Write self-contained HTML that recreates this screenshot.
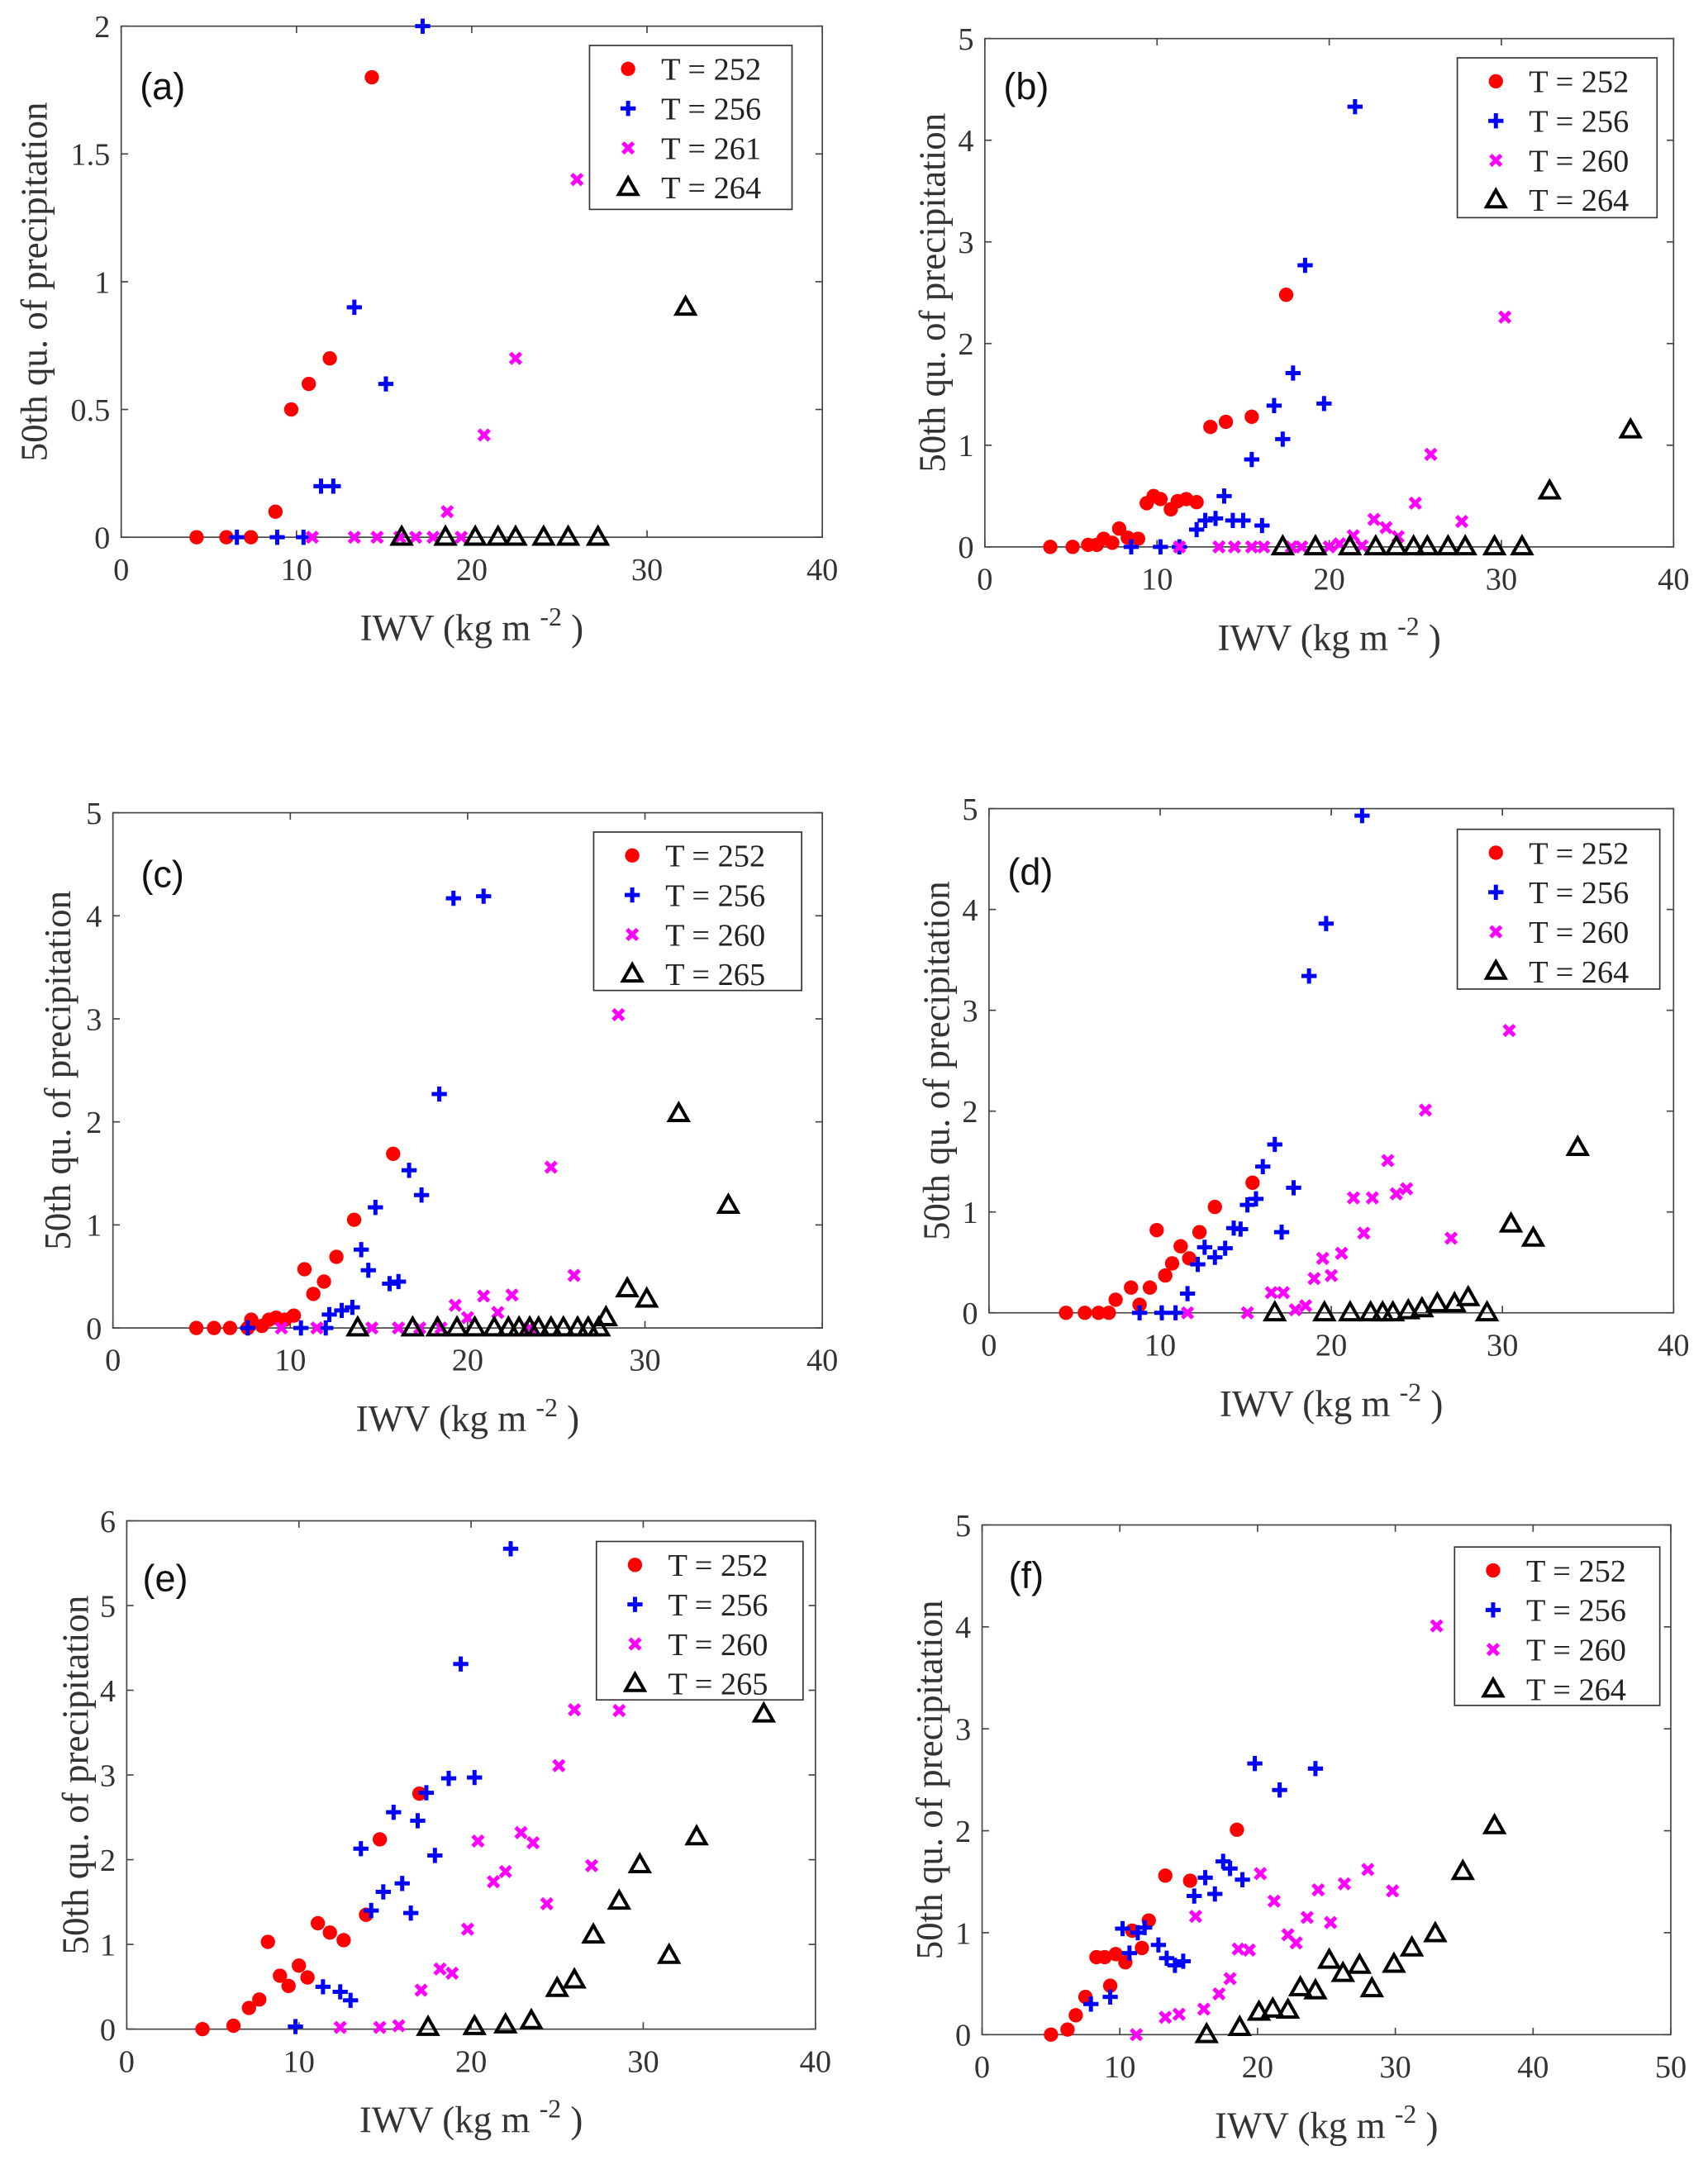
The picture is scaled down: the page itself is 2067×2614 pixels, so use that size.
<!DOCTYPE html>
<html><head><meta charset="utf-8"><style>
html,body{margin:0;padding:0;background:#fff;}
svg{display:block;}
</style></head><body>
<svg id="fig" width="2067" height="2614" viewBox="0 0 1240 1568" preserveAspectRatio="none" xmlns="http://www.w3.org/2000/svg"></svg>
<script>
// ---- data (IWV, precip) per panel and series ----
const a_252_x=[4.3,6.0,7.4,8.8,9.7,10.7,11.9,14.3];
const a_252_y=[0,0,0,0.1,0.5,0.6,0.7,1.8];
const a_256_x=[6.6,8.9,10.4,11.4,12.1,13.3,15.1,17.2];
const a_256_y=[0,0,0,0.2,0.2,0.9,0.6,2.0];
const a_261_x=[10.9,13.3,14.6,15.9,16.8,17.8,18.6,19.4,20.7,22.5,26.0];
const a_261_y=[0,0,0,0,0,0,0.1,0,0.4,0.7,1.4];
const a_264_x=[16.0,18.5,20.2,21.5,22.5,24.1,25.5,27.2,32.2];
const a_264_y=[0,0,0,0,0,0,0,0,0.9];

const b_252_x=[3.8,5.1,6.0,6.5,6.9,7.4,7.8,8.3,8.9,9.4,9.8,10.2,10.8,11.2,11.7,12.3,13.1,14.0,15.5,17.5];
const b_252_y=[0,0,0.02,0.02,0.08,0.04,0.18,0.09,0.08,0.43,0.5,0.47,0.37,0.45,0.47,0.44,1.18,1.23,1.28,2.48];
const b_256_x=[8.5,10.2,11.3,12.3,12.8,13.4,13.9,14.4,15.0,15.5,16.1,16.8,17.3,17.9,18.6,19.7,21.5];
const b_256_y=[0,0,0,0.17,0.26,0.28,0.5,0.26,0.26,0.86,0.21,1.39,1.06,1.71,2.77,1.41,4.33];
const b_260_x=[11.3,13.6,14.5,15.5,16.2,17.8,18.4,20.0,20.6,21.4,21.9,22.6,23.3,24.0,25.0,25.9,27.7,30.2];
const b_260_y=[0,0,0,0,0,0,0,0,0.03,0.11,0.01,0.27,0.19,0.1,0.43,0.91,0.25,2.26];
const b_264_x=[17.3,19.2,21.2,22.7,23.9,24.9,25.7,26.9,27.9,29.6,31.2,32.8,37.5];
const b_264_y=[0,0,0,0,0,0,0,0,0,0,0,0.55,1.15];

const c_252_x=[4.7,5.7,6.6,7.6,7.8,8.4,8.8,9.2,9.7,10.2,10.8,11.3,11.9,12.6,13.6,15.8];
const c_252_y=[0,0,0,0,0.08,0.02,0.08,0.1,0.08,0.12,0.57,0.33,0.45,0.69,1.05,1.69];
const c_256_x=[7.6,10.6,12.0,12.2,12.9,13.5,14.0,14.4,14.8,15.6,16.1,16.7,17.4,18.4,19.2,20.9];
const c_256_y=[0,0,0,0.13,0.17,0.2,0.76,0.56,1.17,0.43,0.45,1.53,1.29,2.27,4.17,4.19];
const c_260_x=[9.5,11.5,14.6,16.1,17.3,18.5,19.3,20.0,20.9,21.7,22.5,23.5,24.7,26.0,28.5];
const c_260_y=[0,0,0,0,0,0,0.22,0.1,0.31,0.15,0.32,0,1.56,0.51,3.04];
const c_265_x=[13.8,16.9,18.3,19.4,20.4,21.5,22.3,22.9,23.5,24.0,24.7,25.4,26.2,26.8,27.4,27.8,29.0,30.1,31.9,34.7];
const c_265_y=[0,0,0,0,0,0,0,0,0,0,0,0,0,0,0,0.1,0.38,0.28,2.08,1.19];

const d_252_x=[4.5,5.6,6.4,7.0,7.4,8.3,8.8,9.4,9.8,10.3,10.7,11.2,11.7,12.3,13.2,15.4];
const d_252_y=[0,0,0,0,0.13,0.25,0.08,0.25,0.82,0.37,0.49,0.66,0.54,0.8,1.05,1.29];
const d_256_x=[8.8,10.1,10.9,11.6,12.2,12.6,13.2,13.8,14.3,14.7,15.1,15.6,16.0,16.7,17.1,17.8,18.7,19.7,21.8];
const d_256_y=[0,0,0,0.19,0.48,0.65,0.55,0.64,0.84,0.83,1.07,1.13,1.45,1.67,0.8,1.24,3.34,3.86,4.93];
const d_260_x=[11.6,15.1,16.5,17.2,17.9,18.5,19.0,19.5,20.0,20.6,21.3,21.9,22.4,23.3,23.8,24.4,25.5,27.0,30.4];
const d_260_y=[0,0,0.2,0.2,0.03,0.07,0.34,0.54,0.37,0.59,1.14,0.79,1.14,1.51,1.18,1.23,2.01,0.74,2.8];
const d_264_x=[16.7,19.6,21.1,22.3,23.0,23.6,24.5,25.3,26.2,27.2,28.0,29.1,30.5,31.8,34.4];
const d_264_y=[0,0,0,0,0,0,0.02,0.04,0.09,0.09,0.15,0,0.88,0.74,1.64];

const e_252_x=[4.4,6.2,7.1,7.7,8.2,8.9,9.4,10.0,10.5,11.1,11.8,12.6,13.9,14.7,17.0];
const e_252_y=[0,0.04,0.25,0.35,1.03,0.63,0.51,0.75,0.61,1.25,1.14,1.05,1.35,2.24,2.78];
const e_256_x=[9.8,11.4,12.4,13.0,13.6,14.2,14.9,15.5,16.0,16.5,16.9,17.4,17.9,18.7,19.4,20.2,22.3];
const e_256_y=[0.03,0.5,0.44,0.34,2.13,1.4,1.62,2.56,1.72,1.37,2.46,2.79,2.05,2.96,4.31,2.97,5.67];
const e_260_x=[12.4,14.7,15.8,17.1,18.2,18.9,19.8,20.4,21.3,22.0,22.9,23.6,24.4,25.1,26.0,27.0,28.6];
const e_260_y=[0.02,0.02,0.04,0.46,0.71,0.66,1.18,2.22,1.74,1.86,2.32,2.2,1.48,3.11,3.77,1.93,3.76];
const e_265_x=[17.5,20.2,22.0,23.5,25.0,26.0,27.1,28.6,29.8,31.5,33.1,37.0];
const e_265_y=[0.02,0.03,0.05,0.1,0.48,0.58,1.11,1.51,1.94,0.87,2.27,3.72];

const f_252_x=[5.0,6.2,6.8,7.5,8.3,8.9,9.3,9.7,10.4,10.9,11.6,12.1,13.3,15.1,18.5];
const f_252_y=[0,0.05,0.19,0.37,0.76,0.76,0.48,0.79,0.71,1.02,0.85,1.12,1.56,1.51,2.01];
const f_256_x=[7.9,9.3,10.2,10.7,11.3,11.8,12.8,13.4,14.0,14.6,15.4,16.2,16.9,17.5,18.0,18.9,19.8,21.6,24.2];
const f_256_y=[0.3,0.37,1.04,0.8,1.0,1.05,0.88,0.75,0.68,0.72,1.36,1.54,1.38,1.7,1.63,1.52,2.66,2.4,2.61];
const f_260_x=[11.2,13.3,14.3,15.5,16.1,17.2,18.0,18.6,19.4,20.2,21.2,22.2,22.8,23.6,24.4,25.3,26.3,28.0,29.8,33.0];
const f_260_y=[0,0.17,0.2,1.16,0.25,0.4,0.55,0.84,0.83,1.58,1.31,0.98,0.9,1.15,1.42,1.1,1.48,1.62,1.41,4.01];
const f_264_x=[16.3,18.7,20.1,21.1,22.2,23.1,24.2,25.2,26.2,27.4,28.3,29.9,31.2,32.9,34.9,37.2];
const f_264_y=[0,0.07,0.22,0.25,0.24,0.46,0.43,0.73,0.6,0.68,0.45,0.69,0.85,0.99,1.6,2.05];

const xTicksA=[0,10,20,30,40];
const xTicksF=[0,10,20,30,40,50];
const yTicksA=[0,0.5,1,1.5,2];
const yTicks5=[0,1,2,3,4,5];
const yTicks6=[0,1,2,3,4,5,6];

const panels=[
 {id:'a',L:88,R:597,T:19,B:390,xmax:40,ymax:2,xt:xTicksA,yt:yTicksA,leg:[428,33,147,119],lab:[118,62],ylx:25,names:['252','256','261','264'],
  s:[[a_252_x,a_252_y],[a_256_x,a_256_y],[a_261_x,a_261_y],[a_264_x,a_264_y]]},
 {id:'b',L:715,R:1215,T:28,B:397,xmax:40,ymax:5,xt:xTicksA,yt:yTicks5,leg:[1058,42,145,116],lab:[745,62],ylx:677,names:['252','256','260','264'],
  s:[[b_252_x,b_252_y],[b_256_x,b_256_y],[b_260_x,b_260_y],[b_264_x,b_264_y]]},
 {id:'c',L:82,R:597,T:590,B:964,xmax:40,ymax:5,xt:xTicksA,yt:yTicks5,leg:[431,604,151,115],lab:[118,634],ylx:42,names:['252','256','260','265'],
  s:[[c_252_x,c_252_y],[c_256_x,c_256_y],[c_260_x,c_260_y],[c_265_x,c_265_y]]},
 {id:'d',L:718,R:1215,T:587,B:953,xmax:40,ymax:5,xt:xTicksA,yt:yTicks5,leg:[1058,602,147,116],lab:[748,632],ylx:680,names:['252','256','260','264'],
  s:[[d_252_x,d_252_y],[d_256_x,d_256_y],[d_260_x,d_260_y],[d_264_x,d_264_y]]},
 {id:'e',L:92,R:592,T:1104,B:1473,xmax:40,ymax:6,xt:xTicksA,yt:yTicks6,leg:[433,1119,150,115],lab:[120,1145],ylx:55,names:['252','256','260','265'],
  s:[[e_252_x,e_252_y],[e_256_x,e_256_y],[e_260_x,e_260_y],[e_265_x,e_265_y]]},
 {id:'f',L:713,R:1213,T:1107,B:1477,xmax:50,ymax:5,xt:xTicksF,yt:yTicks5,leg:[1056,1123,149,115],lab:[745,1143],ylx:675,names:['252','256','260','264'],
  s:[[f_252_x,f_252_y],[f_256_x,f_256_y],[f_260_x,f_260_y],[f_264_x,f_264_y]]}
];

const NS='http://www.w3.org/2000/svg';
const svg=document.getElementById('fig');
function mk(tag,attrs,parent){const e=document.createElementNS(NS,tag);for(const k in attrs)e.setAttribute(k,attrs[k]);(parent||svg).appendChild(e);return e;}
const SERIF='"Liberation Serif", serif';
const SANS='"Liberation Sans", sans-serif';

function marker(kind,cx,cy,g){
  let m;
  if(kind===0){m=mk('circle',{cx:cx,cy:cy,r:5.2,fill:'#ff0000'},g);}
  else if(kind===1){m=mk('path',{d:`M${cx-5.5} ${cy}H${cx+5.5}M${cx} ${cy-5.5}V${cy+5.5}`,stroke:'#0000ff','stroke-width':3,fill:'none'},g);}
  else if(kind===2){m=mk('path',{d:`M${cx-3.8} ${cy-3.8}L${cx+3.8} ${cy+3.8}M${cx-3.8} ${cy+3.8}L${cx+3.8} ${cy-3.8}`,stroke:'#ff00ff','stroke-width':3,fill:'none'},g);}
  else {m=mk('path',{d:`M${cx} ${cy-7}L${cx+6.8} ${cy+5}L${cx-6.8} ${cy+5}Z`,stroke:'#000','stroke-width':2.4,fill:'none','stroke-linejoin':'miter'},g);}
  return m;
}

panels.forEach(p=>{
  const g=mk('g',{});
  
  
  const sx=v=>p.L+(p.R-p.L)*v/p.xmax;
  const sy=v=>p.B-(p.B-p.T)*v/p.ymax;
  const box=mk('rect',{x:p.L,y:p.T,width:p.R-p.L,height:p.B-p.T,fill:'none',stroke:'#444','stroke-width':1},g);
  
  
  p.xt.forEach(t=>{
    const x=sx(t);
    mk('line',{x1:x,y1:p.B,x2:x,y2:p.B-5,stroke:'#444','stroke-width':1},g);
    mk('line',{x1:x,y1:p.T,x2:x,y2:p.T+5,stroke:'#444','stroke-width':1},g);
    const tl=mk('text',{x:x,y:p.B+31,'text-anchor':'middle','font-family':SERIF,'font-size':23,fill:'#333'},g);
    tl.textContent=t;
    
    
  });
  p.yt.forEach(t=>{
    const y=sy(t);
    mk('line',{x1:p.L,y1:y,x2:p.L+5,y2:y,stroke:'#444','stroke-width':1},g);
    mk('line',{x1:p.R,y1:y,x2:p.R-5,y2:y,stroke:'#444','stroke-width':1},g);
    const tl=mk('text',{x:p.L-8,y:y+8,'text-anchor':'end','font-family':SERIF,'font-size':23,fill:'#333'},g);
    tl.textContent=t;
    
    
  });
  const cy=(p.T+p.B)/2;
  const yl=mk('text',{x:p.ylx,y:cy,transform:`rotate(-90 ${p.ylx} ${cy})`,'text-anchor':'middle','dominant-baseline':'central','font-family':SERIF,'font-size':27,fill:'#333'},g);
  yl.textContent='50th qu. of precipitation';
  
  
  const cx=(p.L+p.R)/2;
  const xl=mk('text',{x:cx,y:p.B+75,'text-anchor':'middle','font-family':SERIF,'font-size':27,fill:'#333'},g);
  
  
  const t1=mk('tspan',{},xl);t1.textContent='IWV (kg m ';
  const t2=mk('tspan',{dy:-11,'font-size':19},xl);t2.textContent='-2';
  const t3=mk('tspan',{dy:11},xl);t3.textContent=' )';
  const pl=mk('text',{x:p.lab[0],y:p.lab[1]+10,'text-anchor':'middle','font-family':SANS,'font-size':27,fill:'#111'},g);
  pl.textContent='('+p.id+')';
  
  
  p.s.forEach((ser,k)=>{
    const sg=mk('g',{},g);
    
    
    ser[0].forEach((xv,i)=>{
      const m=marker(k,sx(xv),sy(ser[1][i]),sg);
      
      
    });
  });
  const [lx,ly,lw,lh]=p.leg;
  const lg=mk('g',{},g);
  
  
  mk('rect',{x:lx,y:ly,width:lw,height:lh,fill:'#fff',stroke:'#333','stroke-width':1},lg);
  p.names.forEach((n,k)=>{
    const ey=ly+17+k*28.7;
    const eg=mk('g',{},lg);
    
    
    marker(k,lx+28,ey,eg);
    const tt=mk('text',{x:lx+52,y:ey+8,'font-family':SERIF,'font-size':23,fill:'#222'},eg);
    tt.textContent='T = '+n;
  });
});
</script>
</body></html>
